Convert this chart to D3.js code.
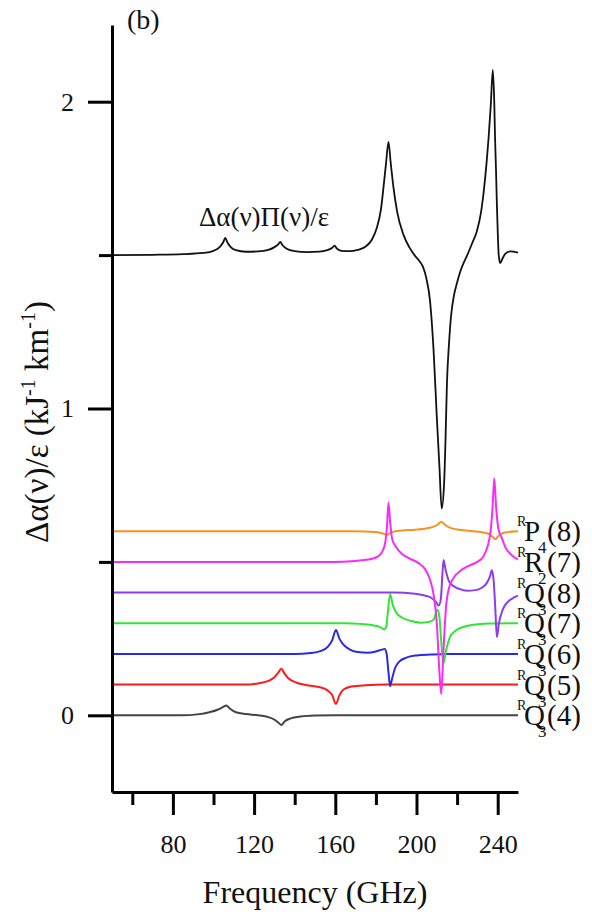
<!DOCTYPE html>
<html>
<head>
<meta charset="utf-8">
<script src="https://cdn.jsdelivr.net/npm/d3@7"></script>
<style>
  body { margin: 0; background: #fff; }
  text { font-family: "Liberation Serif", "Times New Roman", serif; fill: #111; }
</style>
</head>
<body>
<div id="chart"></div>
<script>
// spectra as [frequency GHz, value] pairs; each trace is shifted by its offset
const total = [[50,0],[70,0.001],[85,0.003],[95,0.007],[100,0.014],[103,0.026],[104.8,0.042],[105.8,0.056],
  [106.8,0.042],[108.5,0.026],[111,0.016],[116,0.011],[122,0.012],[127,0.017],[130,0.026],[132,0.036],
  [132.9,0.043],[134,0.032],[136,0.021],[140,0.013],[146,0.01],[152,0.011],[156,0.016],[158.5,0.024],
  [159.6,0.031],[160.8,0.021],[163,0.014],[167,0.013],[171,0.017],[175,0.028],[178,0.05],[180.5,0.09],
  [182.5,0.15],[183.7,0.218],[185,0.3],[186.2,0.369],[187.3,0.3],[188.7,0.218],[190.5,0.14],[193.6,0.066],
  [196.5,0.025],[199,0],[201.5,-0.02],[203.3,-0.04],[205,-0.08],[206.6,-0.146],[208.4,-0.309],[210,-0.527],
  [211.3,-0.69],[212.4,-0.826],[213.6,-0.744],[214.3,-0.6],[215,-0.418],[216,-0.29],[217,-0.2],[218.5,-0.13],
  [219.9,-0.092],[221.5,-0.055],[223.2,-0.026],[225,0],[227.5,0.04],[229.7,0.077],[231.8,0.14],[233.3,0.218],
  [234.5,0.3],[235.5,0.381],[236.6,0.49],[237.6,0.604],[238.3,0.5],[238.7,0.381],[239.2,0.27],[239.6,0.164],
  [240.1,0.06],[240.5,0],[241.2,-0.026],[242.3,-0.012],[243.7,0.004],[246.2,0.012],[250,0.008]];

const q34 = [[50,0],[85,0],[92,0.003],[98,0.01],[102,0.018],[105,0.028],[106.3,0.032],[108,0.022],[111,0.01],
  [116,0.004],[122,0],[127,-0.006],[130,-0.014],[132,-0.024],[133.4,-0.032],[135,-0.02],[138,-0.01],
  [143,-0.004],[150,-0.001],[160,0],[250,0]];

const q35 = [[50,0],[115,0],[122,0.004],[127,0.012],[130,0.024],[132,0.04],[133.4,0.052],[135,0.036],[137,0.02],
  [141,0.006],[146,-0.002],[152,-0.008],[156,-0.018],[158.5,-0.035],[160.3,-0.063],[162,-0.035],[164,-0.016],
  [168,-0.006],[175,-0.002],[185,0],[250,0]];

const q36 = [[50,0],[140,0],[148,0.003],[153,0.01],[156.5,0.025],[158.5,0.045],[160.3,0.078],[162,0.05],[164,0.03],
  [167,0.015],[171,0.006],[176,0.004],[180,0.008],[183,0.014],[184.3,0.016],[185.3,0],[186.2,-0.06],[187,-0.105],
  [188,-0.08],[189.5,-0.045],[191.5,-0.025],[195,-0.012],[200,-0.005],[207,-0.002],[215,0],[250,0]];

const q37 = [[50,0],[165,0],[172,-0.002],[178,-0.006],[182,-0.012],[184,-0.02],[185,-0.014],[185.8,0.03],[187,0.095],
  [188.3,0.06],[190,0.035],[193,0.018],[197,0.008],[202,0.002],[206,0.004],[208.5,0.012],[210.3,0.045],[211.3,0.02],
  [212.3,-0.07],[213.3,-0.13],[214.5,-0.09],[216.5,-0.045],[219,-0.025],[223,-0.012],[228,-0.005],[235,-0.001],[250,0]];

const q38 = [[50,0],[190,0],[198,-0.003],[203,-0.008],[207,-0.016],[209.5,-0.03],[211,-0.042],[212,-0.02],[212.6,0.04],
  [213.3,0.106],[214.3,0.075],[215.8,0.04],[218,0.022],[221,0.012],[225,0.006],[229,0.008],[232,0.015],[234.5,0.03],
  [236.3,0.055],[237.1,0.073],[238,0.04],[238.8,-0.05],[239.6,-0.145],[240.6,-0.1],[242.5,-0.055],[245,-0.03],
  [248,-0.016],[250,-0.01]];

const r27 = [[50,0],[160,0],[168,0.002],[173,0.005],[178,0.01],[181,0.018],[183,0.032],[184.5,0.06],[185.5,0.12],
  [186.2,0.194],[187,0.13],[188,0.075],[190,0.048],[193,0.025],[197,0.01],[201,-0.004],[204,-0.022],[206.5,-0.055],
  [208.5,-0.11],[210,-0.2],[211.3,-0.36],[212.2,-0.431],[213.2,-0.3],[214.5,-0.15],[216,-0.085],[218.5,-0.05],
  [222,-0.027],[226,-0.012],[230,0],[233,0.018],[235,0.05],[236.5,0.1],[237.5,0.18],[238.3,0.272],[239.2,0.18],
  [240.3,0.11],[242,0.078],[244,0.045],[246,0.028],[248,0.016],[250,0.008]];

const p48 = [[50,0],[170,0],[178,-0.002],[182,-0.005],[184,-0.009],[185.4,-0.012],[186.5,-0.008],[188,-0.003],
  [193,0.002],[199,0.005],[204,0.008],[208,0.014],[210.5,0.022],[212.2,0.031],[214,0.021],[217,0.01],[222,0.004],
  [228,0],[233,-0.004],[236,-0.01],[237.8,-0.02],[238.8,-0.026],[240,-0.018],[242,-0.008],[245,-0.003],[250,0]];

const series = [total, q34, q35, q36, q37, q38, p48, r27];
const offsets = [1.5, 0, 0.1, 0.2, 0.3, 0.4, 0.6, 0.5];
const colors = ["#111", "#444", "#ff1a1a", "#2a2ae6", "#33e533", "#8a3cf0", "#f7931e", "#f82cf8"];

// right-hand labels: letter, subscript, bracket, offset
const labelLetter = ["P", "R", "Q", "Q", "Q", "Q", "Q"];
const labelSub = ["4", "2", "3", "3", "3", "3", "3"];
const labelJ = ["(8)", "(7)", "(8)", "(7)", "(6)", "(5)", "(4)"];
const labelOffset = [0.6, 0.5, 0.4, 0.3, 0.2, 0.1, 0];

const xMajor = [80, 120, 160, 200, 240];
const xMinor = [60, 100, 140, 180, 220];
const yMajor = [0, 1, 2];
const yMinor = [0.5, 1.5];

let width = 592, height = 917;

const svg = d3.select("#chart")
  .append("svg")
  .attr("width", width)
  .attr("height", height);

let x = d3.scaleLinear().domain([50, 250]).range([112, 518]);
let y = d3.scaleLinear().domain([-0.25, 2.25]).range([792, 25]);

const line = d3.line()
  .x(d => x(d[0]))
  .y(d => y(d[1] + d.off))
  .curve(d3.curveMonotoneX);

series.forEach((s, i) => {
  const pts = s.map(p => { const q = [p[0], p[1]]; q.off = offsets[i]; return q; });
  svg.append("path")
    .attr("d", line(pts))
    .attr("fill", "none")
    .attr("stroke", colors[i])
    .attr("stroke-width", i === 0 ? 1.8 : 2)
    .attr("stroke-linejoin", "round");
});

// axes
svg.append("g")
  .attr("transform", `translate(0,${y(-0.25)})`)
  .call(d3.axisBottom(x).tickValues(xMajor).tickSize(23).tickSizeOuter(0).tickPadding(20).tickFormat(d3.format("d")));
svg.append("g")
  .attr("transform", `translate(0,${y(-0.25)})`)
  .call(d3.axisBottom(x).tickValues(xMinor).tickSize(13).tickSizeOuter(0).tickFormat(""))
  .select(".domain").remove();

svg.append("g")
  .attr("transform", `translate(${x(50)},0)`)
  .call(d3.axisLeft(y).tickValues(yMajor).tickSize(24).tickSizeOuter(0).tickPadding(14).tickFormat(d3.format("d")));
svg.append("g")
  .attr("transform", `translate(${x(50)},0)`)
  .call(d3.axisLeft(y).tickValues(yMinor).tickSize(13).tickSizeOuter(0).tickFormat(""))
  .select(".domain").remove();

svg.selectAll(".domain, .tick line")
  .attr("stroke", "#000")
  .attr("stroke-width", 3);
svg.selectAll(".tick text")
  .style("font-family", "'Liberation Serif', serif")
  .style("font-size", "26px")
  .attr("fill", "#111");

// axis titles
svg.append("text")
  .attr("x", (x(50) + x(250)) / 2)
  .attr("y", 903)
  .attr("text-anchor", "middle")
  .style("font-size", "32px")
  .text("Frequency (GHz)");

const yt = svg.append("text")
  .attr("transform", "translate(48,422) rotate(-90)")
  .attr("text-anchor", "middle")
  .style("font-size", "33px");
yt.append("tspan").text("Δα(ν)/ε (kJ");
yt.append("tspan").attr("dy", -13).style("font-size", "20px").text("-1");
yt.append("tspan").attr("dy", 13).text(" km");
yt.append("tspan").attr("dy", -13).style("font-size", "20px").text("-1");
yt.append("tspan").attr("dy", 13).text(")");

svg.append("text")
  .attr("x", 127)
  .attr("y", 29)
  .style("font-size", "28px")
  .text("(b)");

svg.append("text")
  .attr("x", 264)
  .attr("y", 226)
  .attr("text-anchor", "middle")
  .style("font-size", "27px")
  .text("Δα(ν)Π(ν)/ε");

// transition labels at the right end of each trace
labelOffset.forEach((o, i) => {
  const base = y(o) + 10;
  const g = svg.append("g");
  g.append("text").attr("x", 517).attr("y", base - 15).style("font-size", "14px").text("R");
  g.append("text").attr("x", 524).attr("y", base).style("font-size", "29px").text(labelLetter[i]);
  g.append("text").attr("x", 538).attr("y", base + 12).style("font-size", "17px").text(labelSub[i]);
  g.append("text").attr("x", 547).attr("y", base).style("font-size", "29px").text(labelJ[i]);
});
</script>
</body>
</html>
